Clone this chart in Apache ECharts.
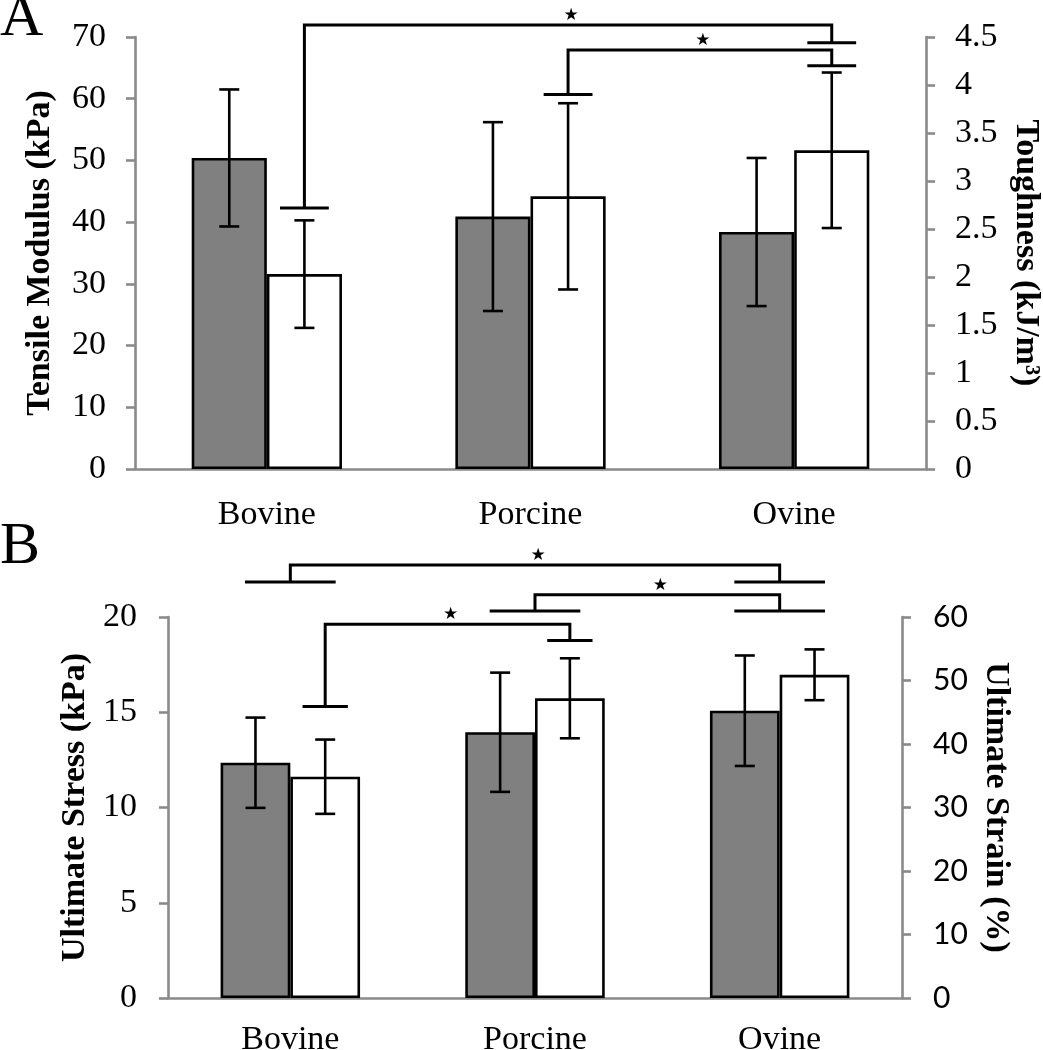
<!DOCTYPE html>
<html><head><meta charset="utf-8">
<script src="https://cdn.jsdelivr.net/npm/echarts@6/dist/echarts.min.js"></script>
<style>html,body{margin:0;padding:0;background:#fff}#c{width:1043px;height:1050px}</style>
</head><body><div id="c"></div>
<script>
// ---------- data ----------
const categories = ['Bovine', 'Porcine', 'Ovine'];
// Panel A
const modulusMean = [50.4, 40.9, 38.4];
const modulusErr  = [11.1, 15.3, 12.0];
const toughMean   = [2.03, 2.84, 3.32];
const toughErr    = [0.56, 0.97, 0.81];
// Panel B
const stressMean  = [12.35, 13.95, 15.08];
const stressErr   = [2.37, 3.13, 2.90];
const strainMean  = [34.85, 47.2, 50.9];
const strainErr   = [5.85, 6.3, 4.0];
// axis ranges [min, max, interval]
const modulusAxis = [0, 70, 10];
const toughAxis   = [0, 4.5, 0.5];
const stressAxis  = [0, 20, 5];
const strainAxis  = [0, 60, 10];
// significance brackets: [fromCat, fromBar, fromValue, toCat, toBar, toValue, topValue]
const toughBrackets = [
  [0, 'white', 2.72, 2, 'white', 4.44, 4.625],
  [1, 'white', 3.90, 2, 'white', 4.20, 4.365]
];
const strainBrackets = [
  [0, 'white', 45.9, 1, 'white', 56.3, 58.85],
  [1, 'group', 60.95, 2, 'group', 60.95, 63.5],
  [0, 'group', 65.5, 2, 'group', 65.5, 68.2]
];

// ---------- styling ----------
const GREY = '#8a8a8a';
const SERIF = 'Liberation Serif';
const BAR_FRAC = 0.285;   // each bar's share of the category band
const LW = 2.6;
const FS = 34;

function errData(mean, err) {
  return mean.map((m, i) => [i, m - err[i], m + err[i]]);
}
function errRender(side) {
  return function (params, api) {
    const cat = api.value(0);
    const bw = api.size([1, 0])[0] * BAR_FRAC;
    const lo = api.coord([cat, api.value(1)]);
    const hi = api.coord([cat, api.value(2)]);
    const x = lo[0] + side * bw / 2;
    const cap = 10;
    const st = { stroke: '#000', lineWidth: LW };
    return { type: 'group', children: [
      { type: 'line', shape: { x1: x, y1: lo[1], x2: x, y2: hi[1] }, style: st },
      { type: 'line', shape: { x1: x - cap, y1: lo[1], x2: x + cap, y2: lo[1] }, style: st },
      { type: 'line', shape: { x1: x - cap, y1: hi[1], x2: x + cap, y2: hi[1] }, style: st }
    ]};
  };
}
function bracketRender(list) {
  return function (params, api) {
    const b = list[params.dataIndex];
    const bw = api.size([1, 0])[0] * BAR_FRAC;
    function xOf(cat, kind) {
      const c = api.coord([cat, 0])[0];
      return kind === 'white' ? c + bw / 2 : c;
    }
    function capW(kind) { return kind === 'white' ? bw * 0.65 : bw * 1.3; }
    const x1 = xOf(b[0], b[1]), x2 = xOf(b[3], b[4]);
    const y1 = api.coord([b[0], b[2]])[1];
    const y2 = api.coord([b[3], b[5]])[1];
    const yt = api.coord([b[0], b[6]])[1];
    const st = { stroke: '#000', lineWidth: 3, fill: null };
    const c1 = capW(b[1]) / 2, c2 = capW(b[4]) / 2;
    return { type: 'group', children: [
      { type: 'polyline', shape: { points: [[x1, y1], [x1, yt], [x2, yt], [x2, y2]] }, style: st },
      { type: 'line', shape: { x1: x1 - c1, y1: y1, x2: x1 + c1, y2: y1 }, style: st },
      { type: 'line', shape: { x1: x2 - c2, y1: y2, x2: x2 + c2, y2: y2 }, style: st },
      { type: 'text', style: { text: '★', x: (x1 + x2) / 2 + 3, y: yt - 1, align: 'center', verticalAlign: 'bottom',
        fontFamily: 'DejaVu Sans', fontSize: 17, fill: '#000' } }
    ]};
  };
}

function yAxis(grid, pos, range, name, nameGap, labelFont, labelSize, labelMargin, nameRotate) {
  return {
    type: 'value', gridIndex: grid, position: pos,
    min: range[0], max: range[1], interval: range[2],
    splitLine: { show: false },
    axisLine: { show: true, lineStyle: { color: GREY, width: 2.6 } },
    axisTick: { show: true, length: 9, lineStyle: { color: GREY, width: 2.6 } },
    axisLabel: { color: '#000', fontFamily: labelFont, fontSize: labelSize, margin: labelMargin },
    name: name, nameLocation: 'middle', nameGap: nameGap, nameRotate: nameRotate,
    nameTextStyle: { color: '#000', fontFamily: SERIF, fontWeight: 'bold', fontSize: FS }
  };
}
function xAxis(grid, margin) {
  return {
    type: 'category', gridIndex: grid, data: categories,
    axisLine: { lineStyle: { color: GREY, width: 2.6 } },
    axisTick: { length: 10, lineStyle: { color: GREY, width: 2.6 } },
    axisLabel: { color: '#000', fontFamily: SERIF, fontSize: FS, margin: margin }
  };
}
const barGrey = { color: '#808080', borderColor: '#000', borderWidth: 2.6 };
const barWhite = { color: '#ffffff', borderColor: '#000', borderWidth: 2.6 };

const option = {
  animation: false,
  backgroundColor: '#fff',
  title: [
    { text: 'A', left: 0, top: -11, padding: 0, textStyle: { fontFamily: SERIF, fontSize: 60, fontWeight: 'normal', color: '#000' } },
    { text: 'B', left: 0, top: 517, padding: 0, textStyle: { fontFamily: SERIF, fontSize: 60, fontWeight: 'normal', color: '#000' } }
  ],
  grid: [
    { left: 135, top: 37, width: 791, height: 432, containLabel: false, outerBoundsMode: 'none' },
    { left: 168, top: 617, width: 734, height: 381, containLabel: false, outerBoundsMode: 'none' }
  ],
  xAxis: [xAxis(0, 29), xAxis(1, 25)],
  yAxis: [
    yAxis(0, 'left', modulusAxis, 'Tensile Modulus (kPa)', 78, SERIF, FS, 29, 90),
    yAxis(0, 'right', toughAxis, 'Toughness (kJ/m³)', 80, SERIF, FS, 29, -90),
    yAxis(1, 'left', stressAxis, 'Ultimate Stress (kPa)', 74, SERIF, FS, 31, 90),
    yAxis(1, 'right', strainAxis, 'Ultimate Strain (%)', 75, 'Lato', 30, 31, -90)
  ],
  series: [
    { type: 'bar', xAxisIndex: 0, yAxisIndex: 0, data: modulusMean, itemStyle: barGrey, barGap: '0%', barCategoryGap: '43%' },
    { type: 'bar', xAxisIndex: 0, yAxisIndex: 1, data: toughMean, itemStyle: barWhite, barGap: '0%', barCategoryGap: '43%' },
    { type: 'bar', xAxisIndex: 1, yAxisIndex: 2, data: stressMean, itemStyle: barGrey, barGap: '0%', barCategoryGap: '43%' },
    { type: 'bar', xAxisIndex: 1, yAxisIndex: 3, data: strainMean, itemStyle: barWhite, barGap: '0%', barCategoryGap: '43%' },
    { type: 'custom', xAxisIndex: 0, yAxisIndex: 0, data: errData(modulusMean, modulusErr), renderItem: errRender(-1), z: 5 },
    { type: 'custom', xAxisIndex: 0, yAxisIndex: 1, data: errData(toughMean, toughErr), renderItem: errRender(1), z: 5 },
    { type: 'custom', xAxisIndex: 1, yAxisIndex: 2, data: errData(stressMean, stressErr), renderItem: errRender(-1), z: 5 },
    { type: 'custom', xAxisIndex: 1, yAxisIndex: 3, data: errData(strainMean, strainErr), renderItem: errRender(1), z: 5 },
    { type: 'custom', xAxisIndex: 0, yAxisIndex: 1, clip: false, z: 6,
      data: toughBrackets.map(b => [b[0], b[6]]), renderItem: bracketRender(toughBrackets) },
    { type: 'custom', xAxisIndex: 1, yAxisIndex: 3, clip: false, z: 6,
      data: strainBrackets.map(b => [b[0], b[6]]), renderItem: bracketRender(strainBrackets) }
  ]
};
const chart = echarts.init(document.getElementById('c'), null, { renderer: 'canvas' });
chart.setOption(option);
</script>
</body></html>
